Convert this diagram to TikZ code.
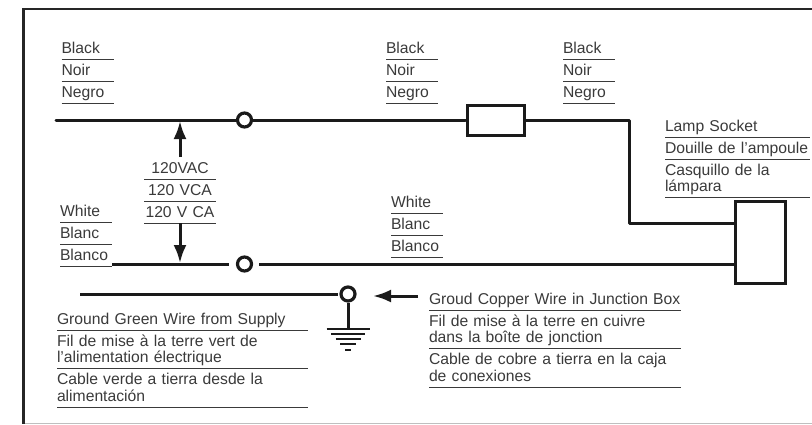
\documentclass[tikz,border=0pt]{standalone}
\usepackage{fontspec}
\setmainfont{Liberation Sans}
\usetikzlibrary{arrows.meta, positioning}
\definecolor{inkgray}{HTML}{3A3A3A}
\definecolor{wirecolor}{HTML}{1A1A1A}
\begin{document}
\begin{tikzpicture}[x = 1pt, y = -1pt, > = {Latex[length=18pt, width=13pt]}]
    \tikzset{
      my label/.style={
        rectangle, text width=#1, align=left, inner sep=0pt, outer sep=0pt,
        text=inkgray, font=\fontsize{15.7}{16.5}\selectfont,
        execute at begin node={\rule{0pt}{16pt}},
        execute at end node={\rule[-6pt]{0pt}{6pt}},
        append after command={
          (\tikzlastnode.south west) edge[my rule] (\tikzlastnode.south east)
        },
      },
      my rule/.style={draw=inkgray, line width=0.9pt},
      my wire/.style={draw=wirecolor, line width=3pt},
      my terminal/.style={
        circle, draw=wirecolor, fill=white, line width=3.2pt,
        minimum size=14pt, inner sep=0pt,
      },
      my box/.style={
        rectangle, draw=wirecolor, fill=white, line width=3pt, inner sep=0pt,
        minimum width=#1,
      },
    }
    \useasboundingbox (0,0) rectangle (812,424);

    % Frame
    \draw[line width=0.8pt, draw=black!25] (23,423.5) -- (812,423.5);
    \draw[line width=2.6pt, draw=black!85] (812,9) -- (23.5,9) -- (23.5,424);

    % Black wire labels
    \foreach \i/\x/\w in {1/61.5/52, 2/386/52, 3/563/52} {
      \node (black\i) [my label=\w pt, anchor=south west] at (\x,59) {Black};
      \node (noir\i) [my label=\w pt, below=0pt of black\i] {Noir};
      \node (negro\i) [my label=\w pt, below=0pt of noir\i] {Negro};
    }

    % White wire labels
    \foreach \i/\x/\y in {1/60/222, 2/391/213} {
      \node (white\i) [my label=52pt, anchor=south west] at (\x,\y) {White};
      \node (blanc\i) [my label=52pt, below=0pt of white\i] {Blanc};
      \node (blanco\i) [my label=52pt, below=0pt of blanc\i] {Blanco};
    }

    % Voltage
    \node (volt1) [my label=72pt, align=center, anchor=south] at (180,179) {120VAC};
    \node (volt2) [my label=72pt, align=center, below=0pt of volt1] {120 VCA};
    \node (volt3) [my label=72pt, align=center, below=0pt of volt2] {120 V CA};

    % Lamp socket labels
    \node (lamp1) [my label=145pt, anchor=south west] at (665,137) {Lamp Socket};
    \node (lamp2) [my label=145pt, below=0pt of lamp1] {Douille de l’ampoule};
    \node (lamp3) [my label=145pt, below=0pt of lamp2] {Casquillo de la\\lámpara};

    % Ground labels
    \node (green1) [my label=251pt, anchor=south west] at (57,330) {Ground Green Wire from Supply};
    \node (green2) [my label=251pt, below=0pt of green1] {Fil de mise à la terre vert de\\l’alimentation électrique};
    \node (green3) [my label=251pt, below=0pt of green2] {Cable verde a tierra desde la\\alimentación};
    \node (copper1) [my label=252pt, anchor=south west] at (429,310) {Groud Copper Wire in Junction Box};
    \node (copper2) [my label=252pt, below=0pt of copper1] {Fil de mise à la terre en cuivre\\dans la boîte de jonction};
    \node (copper3) [my label=252pt, below=0pt of copper2] {Cable de cobre a tierra en la caja\\de conexiones};

    % Parts
    \node (term1) [my terminal] at (244.5,120) {};
    \node (term2) [my terminal] at (244.5,264) {};
    \node (term3) [my terminal] at (348,294) {};
    \node (fuse) [my box=57pt, minimum height=30pt] at (495.5,120) {};
    \node (socket) [my box=50pt, minimum height=82pt] at (760,242) {};

    % Wires
    \coordinate (hotstart) at (56,120);
    \coordinate (hotbend) at (629,120);
    \coordinate (hotdrop) at (629,223);
    \coordinate (lampin) at (735,223);
    \coordinate (neutstart) at (112,264);
    \coordinate (neutend) at (735,264);
    \coordinate (gndstart) at (80,294);
    \coordinate (gnd) at (348,329);
    \draw[my wire, line cap=round] (hotstart) -- (term1) -- (fuse);
    \draw[my wire, line join=round] (fuse) -- (hotbend) -- (hotdrop) -- (lampin);
    \draw[my wire, shorten > = 7pt] (neutstart) -- (term2);
    \draw[my wire, shorten < = 6pt] (term2) -- (neutend);
    \draw[my wire, shorten > = 1pt] (gndstart) -- (term3);
    \draw[my wire] (term3) -- (gnd);

    % Ground symbol
    \foreach \w/\d in {21.5/0, 17/5, 12.5/10, 8/15, 3/21} {
      \draw[my wire, line width=2.6pt] (gnd) ++(-\w,\d) -- ++(2*\w,0);
    }

    % Arrows
    \coordinate (hottip) at (180,121);
    \coordinate (neuttip) at (180,263);
    \coordinate (gndtail) at (418,296);
    \coordinate (gndtip) at (373,296);
    \draw[->, my wire] (volt1) -- (hottip);
    \draw[->, my wire] (volt3) -- (neuttip);
    \draw[->, my wire] (gndtail) -- (gndtip);
\end{tikzpicture}
\end{document}
